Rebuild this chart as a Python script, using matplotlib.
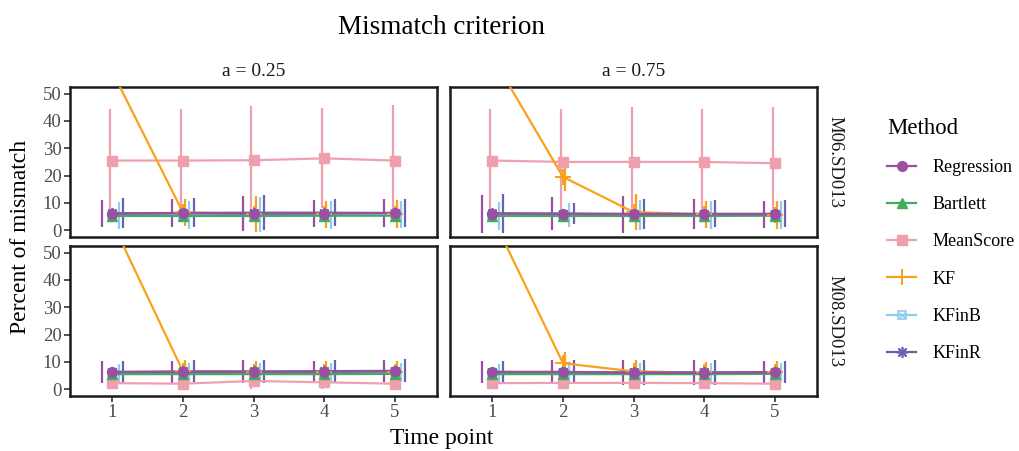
import numpy as np
import matplotlib
matplotlib.use('Agg')
import matplotlib.pyplot as plt
from matplotlib.lines import Line2D

plt.rcParams['font.family'] = ['Liberation Serif', 'DejaVu Serif']

time_points = [1, 2, 3, 4, 5]
methods = ['Regression', 'Bartlett', 'MeanScore', 'KF', 'KFinB', 'KFinR']
col_labels = ['a = 0.25', 'a = 0.75']
row_labels = ['M06.SD013', 'M08.SD013']

# mean percent of mismatch, rows follow `methods`
mean_a025_m06 = [
    [6.0, 6.2, 6.0, 6.1, 6.3],
    [5.2, 5.2, 5.2, 5.3, 5.3],
    [25.5, 25.5, 25.6, 26.3, 25.5],
    [58.0, 6.5, 6.0, 5.8, 5.9],
    [5.3, 5.6, 5.7, 5.6, 5.8],
    [6.2, 6.3, 6.4, 6.4, 6.3],
]
mean_a075_m06 = [
    [6.0, 6.0, 5.8, 5.8, 5.8],
    [5.2, 5.2, 5.2, 5.2, 5.3],
    [25.5, 25.0, 25.0, 25.0, 24.5],
    [63.5, 19.5, 6.6, 5.8, 5.6],
    [5.2, 5.5, 5.6, 5.6, 5.6],
    [6.2, 6.1, 6.0, 6.0, 6.0],
]
mean_a025_m08 = [
    [6.3, 6.3, 6.3, 6.3, 6.5],
    [5.5, 5.5, 5.5, 5.5, 5.6],
    [2.2, 2.0, 3.0, 2.5, 2.0],
    [61.0, 6.5, 6.3, 6.2, 6.4],
    [5.8, 6.0, 6.0, 6.0, 6.2],
    [6.3, 6.5, 6.5, 6.6, 6.7],
]
mean_a075_m08 = [
    [6.3, 6.3, 6.0, 6.0, 6.2],
    [5.5, 5.5, 5.5, 5.5, 5.6],
    [2.2, 2.3, 2.3, 2.2, 2.0],
    [63.0, 9.5, 6.5, 6.1, 6.2],
    [5.8, 6.0, 6.0, 6.0, 6.0],
    [6.3, 6.3, 6.1, 6.1, 6.2],
]

# half width of the error bars (nan = not drawn)
err_a025_m06 = [
    [5.0, 5.2, 6.4, 5.0, 5.2],
    [np.nan] * 5,
    [19.0, 19.0, 19.8, 18.3, 20.5],
    [5.0, 5.0, 6.5, 5.0, 5.0],
    [5.0, 5.0, 6.5, 5.0, 5.0],
    [5.5, 5.3, 6.5, 5.0, 5.2],
]
err_a075_m06 = [
    [7.0, 6.0, 6.8, 5.5, 5.0],
    [np.nan] * 5,
    [19.0, 19.5, 20.0, 19.5, 20.5],
    [6.0, 5.0, 6.5, 5.0, 5.2],
    [5.0, 4.5, 5.5, 5.0, 5.0],
    [7.2, 4.0, 5.5, 5.0, 5.0],
]
err_a025_m08 = [
    [4.0, 4.0, 4.2, 4.0, 4.0],
    [np.nan] * 5,
    [2.0, 2.0, 3.0, 2.5, 2.0],
    [4.0, 4.0, 4.0, 4.0, 4.0],
    [3.5, 3.5, 3.5, 3.5, 3.5],
    [4.0, 4.0, 4.2, 4.0, 4.2],
]
err_a075_m08 = [
    [4.0, 4.2, 4.5, 4.5, 4.0],
    [np.nan] * 5,
    [2.0, 2.0, 2.3, 2.0, 2.0],
    [4.0, 4.0, 4.0, 4.0, 4.0],
    [3.5, 3.5, 3.5, 3.5, 3.5],
    [4.0, 4.2, 4.5, 4.5, 4.0],
]

colors = ['#9a4fa3', '#3fae5a', '#efa0ae', '#f9a11b', '#8fcdee', '#6963ad']
markers = ['o', '^', 's', '+', 's', (8, 2, 0)]
dodge = [-0.15, -0.09, -0.03, 0.03, 0.09, 0.15]

panels = [[(mean_a025_m06, err_a025_m06), (mean_a075_m06, err_a075_m06)],
          [(mean_a025_m08, err_a025_m08), (mean_a075_m08, err_a075_m08)]]

fig = plt.figure(figsize=(10.2, 4.51), dpi=100)
lefts = [0.0686, 0.4412]
bottoms = [0.4745, 0.122]
w, h = 0.3600, 0.3330

x = np.array(time_points, dtype=float)

for r in range(2):
    for c in range(2):
        ax = fig.add_axes([lefts[c], bottoms[r], w, h])
        means, errs = panels[r][c]
        # error bars
        for i in range(len(methods)):
            m = np.array(means[i])
            e = np.array(errs[i])
            ok = ~np.isnan(e)
            ax.vlines(x[ok] + dodge[i], (m - e)[ok], (m + e)[ok],
                      color=colors[i], lw=1.6, zorder=2)
        # lines and points
        for i in [2, 3, 4, 1, 5, 0]:
            m = np.array(means[i])
            ax.plot(x, m, color=colors[i], lw=1.6, zorder=3)
            if i == 3:
                ax.plot(x, m, ls='none', marker='+', ms=12, mew=1.4,
                        color=colors[i], zorder=4)
            elif i == 4:
                ax.plot(x, m, ls='none', marker='s', ms=6, mfc='none', mew=1.2,
                        color=colors[i], zorder=4)
                ax.plot(x, m, ls='none', marker='x', ms=5, mew=1.0,
                        color=colors[i], zorder=4)
            elif i == 5:
                ax.plot(x, m, ls='none', marker=markers[i], ms=8, mew=1.2,
                        color=colors[i], zorder=5)
            else:
                ax.plot(x, m, ls='none', marker=markers[i], ms=7,
                        color=colors[i], mec=colors[i], zorder=6 if i == 0 else 4)

        ax.set_xlim(0.4, 5.6)
        ax.set_ylim(-2.5, 52.5)
        ax.set_xticks(time_points)
        ax.set_yticks([0, 10, 20, 30, 40, 50])
        for sp in ax.spines.values():
            sp.set_linewidth(1.8)
            sp.set_color('#1a1a1a')
        ax.tick_params(axis='both', direction='out', length=4, width=1.2,
                       color='#333333', labelsize=13.5, labelcolor='#4d4d4d', pad=2)
        if r == 0:
            ax.tick_params(axis='x', labelbottom=False, length=0)
            ax.set_title(col_labels[c], fontsize=14, pad=8, color='#1a1a1a')
        if c == 1:
            ax.tick_params(axis='y', labelleft=False, length=0)
            ax.text(1.025, 0.5, row_labels[r], transform=ax.transAxes,
                    rotation=270, va='center', ha='left', fontsize=13.5,
                    color='#1a1a1a')

fig.text(0.433, 0.94, 'Mismatch criterion', ha='center', va='center', fontsize=19.5)
fig.text(0.433, 0.028, 'Time point', ha='center', va='center', fontsize=17)
fig.text(0.02, 0.475, 'Percent of mismatch', ha='center', va='center',
         rotation=90, fontsize=17)

handles = []
for i, name in enumerate(methods):
    if i == 3:
        hd = Line2D([], [], color=colors[i], lw=1.6, marker='+', ms=12, mew=1.4)
    elif i == 4:
        hd = (Line2D([], [], color=colors[i], lw=1.6, marker='s', ms=6, mfc='none', mew=1.2),
              Line2D([], [], color=colors[i], lw=0, marker='x', ms=5, mew=1.0))
    elif i == 5:
        hd = Line2D([], [], color=colors[i], lw=1.6, marker=markers[i], ms=8, mew=1.2)
    else:
        hd = Line2D([], [], color=colors[i], lw=1.6, marker=markers[i], ms=7)
    handles.append(hd)

leg = fig.legend(handles, methods, loc='upper left', bbox_to_anchor=(0.854, 0.775),
                 frameon=False, fontsize=13, title='Method', title_fontsize=16.4,
                 handlelength=1.6, labelspacing=1.12, handletextpad=0.9,
                 alignment='left')

plt.savefig('out.png', dpi=100)
